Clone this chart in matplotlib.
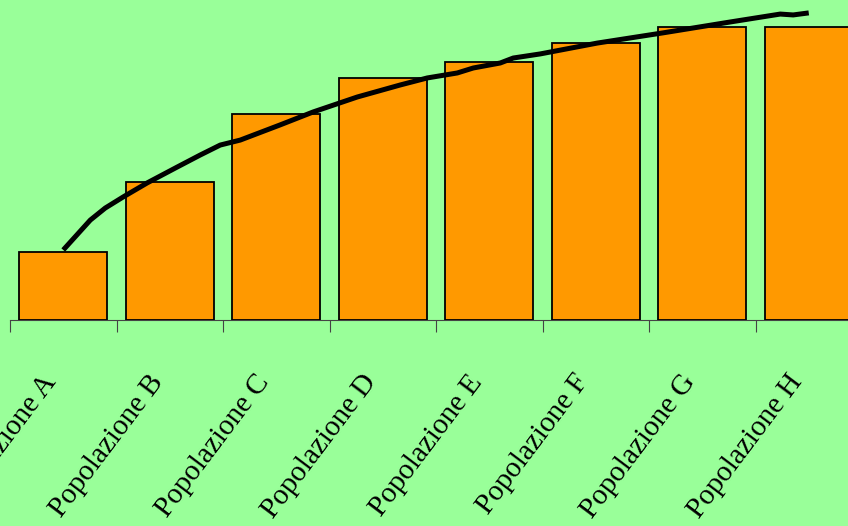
import matplotlib
matplotlib.use("Agg")
import matplotlib.pyplot as plt

# Populations and their bar values
categories = ["Popolazione A", "Popolazione B", "Popolazione C", "Popolazione D",
              "Popolazione E", "Popolazione F", "Popolazione G", "Popolazione H"]
values = [23.2, 47.1, 70.3, 82.6, 88.1, 94.5, 100.0, 100.0]

# Trend curve (position along the category axis, value)
trend_x = [0.0, 0.254, 0.394, 0.563, 0.789, 1.070, 1.286, 1.474, 1.662, 2.038,
           2.347, 2.761, 3.164, 3.418, 3.700, 3.850, 4.103, 4.225, 4.479, 5.014,
           5.634, 6.263, 6.732, 6.854, 7.0]
trend_y = [23.9, 34.1, 38.2, 42.0, 46.8, 52.2, 56.3, 59.7, 61.4, 66.6,
           71.0, 76.1, 80.2, 82.6, 84.3, 86.0, 87.7, 89.4, 90.8, 94.5,
           98.0, 101.7, 104.4, 104.1, 104.8]

BG = "#99FF99"
BAR = "#FF9900"

fig = plt.figure(figsize=(8.48, 5.26), dpi=100, facecolor=BG)
ax = fig.add_axes([10 / 848, 206 / 526, 852 / 848, 320 / 526])
ax.set_facecolor(BG)

xs = list(range(len(categories)))
ax.bar(xs, values, width=0.83, color=BAR, edgecolor="black", linewidth=1.3, zorder=3)
ax.plot(trend_x, trend_y, color="black", linewidth=3.6, solid_capstyle="butt", zorder=4)

ax.set_xlim(-0.5, len(categories) - 0.5)
ax.set_ylim(0, 109.2)

for side in ("left", "top", "right"):
    ax.spines[side].set_visible(False)
ax.spines["bottom"].set_color("#444444")
ax.spines["bottom"].set_linewidth(0.8)

ax.set_yticks([])
ax.set_xticks([i - 0.5 for i in range(len(categories) + 1)])
ax.set_xticklabels([])
ax.tick_params(axis="x", direction="out", length=8.5, width=0.8, color="#444444")

for i, name in enumerate(categories):
    ax.annotate(name, xy=(i, 0), xycoords=("data", "axes fraction"),
                xytext=(-16, -36), textcoords="offset points",
                rotation=53, rotation_mode="anchor", ha="right", va="top",
                fontsize=21, family="Liberation Serif", color="black",
                annotation_clip=False)

fig.savefig("out.png", dpi=100, facecolor=BG)
